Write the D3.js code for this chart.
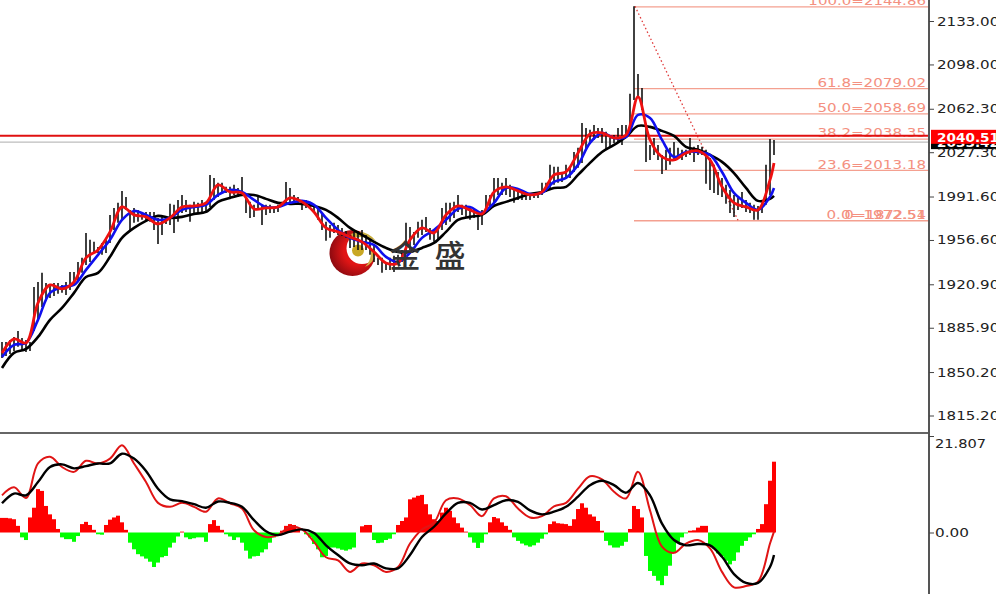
<!DOCTYPE html>
<html><head><meta charset="utf-8">
<style>html,body{margin:0;padding:0;background:#fff;overflow:hidden}svg{display:block}</style>
<script src="https://cdn.jsdelivr.net/npm/d3@7/dist/d3.min.js"></script>
</head><body><svg id="c" width="996" height="594"></svg>
<script>
const highs=[1874.5,1874.5,1876.1,1878.5,1883.3,1877.7,1876.1,1874.5,1918.8,1922.8,
1930.1,1922,1920.4,1922,1922,1920.4,1922.8,1930.9,1930.9,1938.9,
1942.2,1962.3,1956.7,1955.1,1951,1954.2,1956.7,1976.8,1982.4,1986.5,
1996.1,1991.3,1980.8,1982.4,1980.8,1979.2,1979.2,1979.2,1979.2,1974.4,
1976.8,1975.2,1985.7,1984.9,1988.9,1992.9,1988.9,1984.9,1987.3,1986.5,
1988.9,1984.9,2009,2006.6,2002.6,2002.6,1999.4,1999.4,2001,1998.5,
2007.4,1991.3,1987.3,1984.9,1991.3,1984.9,1984.9,1984.9,1983.2,1984.9,
1987.3,2003.4,1998.5,1992.9,1991.3,1988.9,1988.9,1987.3,1984.9,1983.2,
1978.4,1971.2,1968.7,1970.4,1968.7,1966.3,1963.9,1960.7,1963.1,1963.9,
1964.7,1960.7,1956.7,1952.6,1942.2,1942.2,1938.9,1942.2,1943.8,1944.6,
1948.6,1970.4,1967.1,1963.1,1971.2,1972.8,1975.2,1966.3,1964.7,1964.7,
1982.4,1986.5,1986.5,1987.3,1992.9,1984.9,1984.9,1982.4,1982.4,1976.8,
1980.8,1992.9,1992.9,2006.6,2006.6,2002.6,2006.6,2001,1996.9,1996.9,
1995.3,1994.5,1994.5,1994.5,1993.7,2002.6,2002.6,2017.1,2015.5,2015.5,
2011.4,2017.1,2014.7,2027.5,2030.8,2050.9,2046.9,2045.3,2049.3,2046.9,
2046.9,2043.7,2038.8,2041.2,2046.9,2049.3,2049.3,2074.3,2144.86,2090.4,
2079.1,2047.7,2033.2,2038.8,2033.2,2025.1,2029.2,2030.8,2035.6,2030.8,
2029.2,2029.2,2038.8,2031.6,2033.2,2031.6,2029.2,2022.7,2017.1,2011.4,
2006.6,2001,1996.9,1992.9,1990.5,1995.3,1988.9,1986.5,1984.9,1984,
1986.5,2017.1,2038,2037.2];
const lows=[1861.6,1863.2,1864.8,1867.2,1870.5,1868,1866.4,1867.2,1883.3,1892.2,
1902.7,1908.3,1909.9,1911.5,1913.2,1914,1912.3,1916.4,1920.4,1922.8,
1930.1,1936.5,1938.9,1946.2,1946.2,1944.6,1946.2,1954.2,1964.7,1970.4,
1972.8,1980.8,1963.1,1970.4,1971.2,1972.8,1971.2,1971.2,1964.7,1953.4,
1960.7,1969.5,1968.7,1962.3,1971.2,1978.4,1979.2,1971.2,1976.8,1978.4,
1978.4,1978.4,1983.2,1988.9,1991.3,1995.3,1994.5,1991.3,1992.9,1991.3,
1992.9,1978.4,1974.4,1975.2,1980.8,1968.7,1976.8,1978.4,1978.4,1979.2,
1983.2,1986.5,1986.5,1987.3,1984.9,1980.8,1982.4,1982.4,1978.4,1972.8,
1964.7,1955.9,1958.3,1962.3,1960.7,1959.9,1958.3,1950.2,1951,1948.6,
1948.6,1948.6,1944.6,1938.9,1936.5,1930.1,1932.5,1932.5,1930.9,1936.5,
1938.9,1946.2,1948.6,1952.6,1958.3,1960.7,1963.1,1956.7,1955.1,1956.7,
1964.7,1968.7,1971.2,1974.4,1979.2,1976.8,1974.4,1972.8,1974.4,1964.7,
1968.7,1979.2,1980.8,1984.9,1992.9,1992.9,1992.9,1991.3,1986.5,1988.9,
1988.9,1988.9,1988.9,1990.5,1990.5,1992.9,1995.3,1996.9,2001,2002.6,
2003.4,2006.6,2006.6,2011.4,2014.7,2018.7,2029.2,2035.6,2037.2,2038.8,
2034.8,2029.2,2030.8,2034.8,2034.8,2033.2,2038.8,2049.3,2069.4,2071.1,
2061.4,2019.5,2021.1,2025.1,2021.1,2009.8,2013,2017.1,2021.1,2022.7,
2021.1,2023.5,2025.1,2019.5,2025.1,2025.1,2001.8,1996.9,1994.5,1992.9,
1991.3,1985.7,1978.4,1975.2,1980.8,1982.4,1979.2,1978.4,1972.8,1972.8,
1978.4,1984.9,1992.9,2025.1];
const sampleBars=[0,3,6,9,12,15,18,21,24,27,30,33,36,39,42,45,48,51,54,57,60,63,66,69,72,75,78,81,
84,87,90,93,96,99,102,105,108,111,114,117,120,123,126,129,132,135,138,141,144,147,150,153,156,
159,162,165,168,171,174,177,180,183,186,189,192,193];
const maFast=[1865.6,1876.9,1873.7,1905.9,1920.4,1917.2,1922.8,1942.2,1948.6,1963.1,1983.2,1976.8,1975.2,1969.5,1974.4,1983.2,1984,1986.5,2001,1995.3,1994.5,1981.6,1982.4,1983.2,1990.5,1987.3,1979.2,1966.3,
1963.1,1959.1,1955.1,1947,1938.1,1938.1,1956.7,1966.3,1962.3,1976.8,1984,1980.8,1977.6,1995.3,1999.4,1996.1,1992.9,1995.3,2009,2011.4,2026.7,2042,2042.9,2038.8,2041.2,
2071.9,2037.2,2023.5,2021.1,2026.7,2028.4,2021.1,1999.4,1986.5,1983.2,1980.8,2005,2018.7];
const maMid=[1862.4,1872.1,1873.7,1892.2,1914,1918.8,1920.4,1932.5,1944.6,1956.7,1972.8,1980,1976.8,1972.8,1974.4,1980.8,1983.2,1984.9,1992.9,1996.9,1995.3,1988.9,1983.2,1983.2,1986.5,1988.1,1984.9,1974.4,
1964.7,1958.3,1955.1,1952.6,1943,1938.9,1946.2,1958.3,1964.7,1972.8,1981.6,1983.2,1978.4,1986.5,1998.5,1997.7,1993.7,1994.5,2003.4,2006.6,2017.1,2034.8,2042.9,2038.8,2039.6,
2057.4,2054.9,2037.2,2023.5,2027.5,2027.5,2025.1,2011.4,1994.5,1986.5,1980.8,1991.3,1998.5];
const maSlow=[1853.5,1865.6,1868.8,1878.5,1892.2,1901.9,1914,1926.8,1930.1,1943,1958.3,1966.3,1972,1976,1974.4,1975.2,1977.6,1979.2,1987.3,1990.5,1992.9,1992.9,1989.7,1986.5,1985.7,1985.7,1984,1980.8,
1974.4,1966.3,1960.7,1955.1,1950.2,1947,1947,1950.2,1954.2,1963.1,1972.8,1975.2,1976.8,1984,1987.3,1990.5,1993.7,1995.3,1998.5,1999.4,2009,2018.7,2027.5,2033.2,2039.6,
2048.5,2047.7,2044.5,2040.4,2031.6,2029.2,2025.1,2019.5,2010.5,1998.5,1988.1,1989.7,1992.1];
const macdHist=[3.3,3.3,3.2,3.0,1.5,-1.1,-1.7,3.4,5.6,9.8,
9.4,6.0,4.1,3.0,0.8,-1.1,-1.5,-1.5,-2.1,-0.8,
1.9,2.4,1.7,0.6,-0.4,-0.5,1.7,2.9,3.4,3.8,
2.3,0.6,-2.3,-3.8,-4.9,-5.4,-5.9,-6.6,-7.8,-6.8,
-5.6,-5.3,-3.4,-2.3,-0.9,0.2,-1.1,-1.5,-1.3,-1.1,
-1.1,-2.1,1.9,2.8,1.5,0.6,-0.4,-0.9,-1.7,-1.1,
-2.3,-4.1,-5.9,-5.4,-5.3,-4.5,-3.8,-2.3,-1.1,-0.4,
0.4,1.5,1.9,1.7,0.9,0,-0.4,-1.1,-2.6,-3.8,
-5.6,-5.3,-3.4,-3.4,-3.6,-3.9,-4.1,-3.8,-3.4,0,
1.4,1.7,1.7,-1.7,-2.4,-2.3,-1.7,-1.4,-0.4,1.7,
2.6,3.4,7.5,7.9,8.3,8.5,6.4,4.1,3.0,2.6,
4.5,5.6,4.9,3.4,2.1,1.1,0.2,-1.1,-2.3,-3.5,
-2.3,-0.4,2.3,3.5,3.2,2.3,1.5,0.6,-1.1,-1.9,
-2.5,-2.9,-3.2,-2.9,-2.3,-1.4,-0.4,1.9,2.5,2.1,
2.0,1.9,1.5,3.0,5.3,6.6,5.6,4.1,3.6,2.6,
0.4,-1.9,-2.9,-3.4,-3.4,-3.0,-2.1,0.8,6.0,5.3,
3.4,-5.3,-8.7,-9.8,-10.9,-11.9,-9.8,-7.5,-4.5,-2.3,
-1.1,-0.2,0.4,0.5,1.1,1.5,1.5,-3.0,-3.6,-4.7,
-5.4,-6.4,-7.2,-6.4,-4.5,-3.0,-1.9,-1.1,-0.4,0.8,
1.9,6.4,11.7,16.0];
const macdFast=[8.4,10.2,7.8,15.6,17.1,14.8,13.7,16.2,15.6,16.7,19.7,15.6,11.4,6.7,5.8,6.7,5.8,4.7,7.7,6.6,5.4,0.5,-1.0,-0.6,1.3,0.7,-2.1,-5.6,
-6.3,-8.9,-7.0,-7.4,-8.9,-7.8,-2.5,0.7,2.2,7.3,7.7,6.2,3.7,7.7,8.2,5.4,3.4,3.7,5.9,6.7,9.9,12.7,12.0,9.2,7.7,
13.7,5.0,-3.2,-4.6,-2.5,-1.7,-3.6,-8.9,-12.4,-12.1,-11.1,-2.5,0.2];
const macdSlow=[6.6,8.8,8.4,11.4,14.8,15.4,14.5,15.0,15.6,15.6,17.8,16.7,13.9,9.9,7.5,7.1,6.4,5.6,7.0,6.7,5.8,2.8,0.3,-0.6,0.2,0.7,-0.1,-2.9,
-5.1,-7.0,-7.4,-7.0,-8.1,-8.1,-5.1,-1.0,1.3,4.3,6.7,6.7,5.2,6.2,7.3,6.9,5.0,4.1,4.7,5.8,8.1,10.7,11.7,10.7,9.0,
11.2,8.4,2.0,-1.7,-2.9,-2.6,-2.9,-5.5,-9.4,-11.4,-11.4,-7.8,-5.1];
const priceTicks=[2133,2098,2062.3,2027.3,1991.6,1956.6,1920.9,1885.9,1850.2,1815.2];
const macdTicks=[21.807,0];
const fibLevels=[100,61.8,50,38.2,23.6,0];
const fibPrices=[2144.86,2079.02,2058.69,2038.35,2013.18,1972.51];
const fibOverlayLabel="0=1872.54";
const fibBars=[158,184];
const bidPrice=2040.51, askPrice=2035.42;
const brand=["金","盛"];

const svg=d3.select("#c");
const xs=d3.scaleLinear().domain([0,193]).range([2,774]);
const yP=d3.scaleLinear().domain([1815.2,2133]).range([415.5,21]);
const yM=d3.scaleLinear().domain([0,21.807]).range([532.5,436]);
const AX=929, TXT="DejaVu Sans";

// logo watermark
const defs=svg.append("defs");
const g=defs.append("radialGradient").attr("id","lg").attr("cx","0.62").attr("cy","0.45").attr("r","0.62");
g.append("stop").attr("offset","0.5").attr("stop-color","#e01515");
g.append("stop").attr("offset","1").attr("stop-color","#8e0a10");
const logo=svg.append("g");
logo.append("circle").attr("cx",352.5).attr("cy",253).attr("r",23).attr("fill","url(#lg)");
logo.append("circle").attr("cx",362).attr("cy",248.5).attr("r",15.5).attr("fill","#fff");
logo.append("circle").attr("cx",358).attr("cy",250.5).attr("r",6).attr("fill","#c9a825");
logo.append("path").attr("d","M351 234 Q365 228 376 241 Q365 235 353 238Z").attr("fill","#c9ae3c");
logo.append("path").attr("d","M375 250 Q376 262 365 267 Q372 260 371 248Z").attr("fill","#d2b44a");

// histogram
const hw=xs(1)-xs(0);
svg.append("g").selectAll("rect").data(macdHist).join("rect")
  .attr("x",(d,i)=>xs(i)-hw/2).attr("width",hw)
  .attr("y",d=>d>0?yM(d):yM(0)).attr("height",d=>Math.abs(yM(d)-yM(0)))
  .attr("fill",d=>d>0?"#ff0000":"#00ff00");

// fib
const fib=svg.append("g");
fib.selectAll("line").data(fibPrices).join("line")
  .attr("x1",xs(fibBars[0])).attr("x2",AX).attr("y1",d=>yP(d)+0.6).attr("y2",d=>yP(d)+0.6)
  .attr("stroke","#f4a090").attr("stroke-width",1.4);
fib.append("line").attr("x1",xs(fibBars[0])+1).attr("y1",yP(fibPrices[0])).attr("x2",xs(fibBars[1])).attr("y2",yP(fibPrices[5]))
  .attr("stroke","#e03a3a").attr("stroke-width",1.3).attr("stroke-dasharray","1.5 2.5");
const fibLabels=fibPrices.map((p,i)=>`${fibLevels[i].toFixed(1)}=${p.toFixed(2)}`);
const fibPos=fibPrices.map(p=>yP(p)-1);
fib.selectAll("text.f").data(fibLabels).join("text").attr("class","f")
  .attr("x",926).attr("y",(d,i)=>fibPos[i]).attr("text-anchor","end")
  .attr("font-family",TXT).attr("font-size",12.5).attr("fill","#f49080")
  .attr("textLength",d=>d.length*9.05).attr("lengthAdjust","spacingAndGlyphs").text(d=>d);
fib.append("text").attr("x",926).attr("y",fibPos[5]).attr("text-anchor","end")
  .attr("font-family",TXT).attr("font-size",12.5).attr("fill","#f49080")
  .attr("textLength",fibOverlayLabel.length*9.05).attr("lengthAdjust","spacingAndGlyphs").text(fibOverlayLabel);

// level lines
svg.append("line").attr("x1",0).attr("x2",AX).attr("y1",yP(askPrice)).attr("y2",yP(askPrice)).attr("stroke","#bdbdbd").attr("stroke-width",1.2);
svg.append("line").attr("x1",0).attr("x2",AX).attr("y1",yP(bidPrice)).attr("y2",yP(bidPrice)).attr("stroke","#e01010").attr("stroke-width",2);

// bars
svg.append("g").selectAll("line").data(highs).join("line")
  .attr("x1",(d,i)=>xs(i)).attr("x2",(d,i)=>xs(i))
  .attr("y1",d=>yP(d)).attr("y2",(d,i)=>yP(lows[i]))
  .attr("stroke","#111").attr("stroke-width",1.6);

// lines
function series(vals,y,col,w){
  const l=d3.line().x((d,i)=>xs(sampleBars[i])).y(d=>y(d)).curve(d3.curveCatmullRom.alpha(0.5));
  svg.append("path").attr("d",l(vals)).attr("fill","none").attr("stroke",col).attr("stroke-width",w).attr("stroke-linejoin","round");
}
series(maSlow,yP,"#000",2.6);
series(maMid,yP,"#1010ee",2.6);
series(maFast,yP,"#ee1010",2.8);
series(macdFast,yM,"#e01515",2);
series(macdSlow,yM,"#000",2.4);

// brand on top of the lines, as in the reference watermark text
svg.append("g").selectAll("text").data(brand).join("text")
  .attr("x",(d,i)=>i?450:405).attr("y",267).attr("text-anchor","middle")
  .attr("font-family","Noto Sans CJK SC").attr("font-weight",500).attr("font-size",31).attr("fill","#333").text(d=>d);

// pane frame
svg.append("line").attr("x1",0).attr("x2",AX+1).attr("y1",433).attr("y2",433).attr("stroke","#666").attr("stroke-width",2);

// axes
function styleAxis(a,w){
  a.select(".domain").attr("stroke","#555").attr("stroke-width",2);
  a.selectAll(".tick line").attr("stroke","#444");
  a.selectAll(".tick text").attr("font-family",TXT).attr("font-size",12.5).attr("fill","#222")
   .attr("lengthAdjust","spacingAndGlyphs").attr("textLength",function(){return this.textContent.length*w;});
}
const a1=svg.append("g").attr("transform",`translate(${AX},0)`)
  .call(d3.axisRight(yP).tickValues(priceTicks).tickSize(5).tickSizeOuter(0).tickPadding(3).tickFormat(d3.format(".2f")));
a1.select(".domain").attr("d","M0,0V433");
styleAxis(a1,8.9);
const a2=svg.append("g").attr("transform",`translate(${AX},0)`)
  .call(d3.axisRight(yM).tickValues(macdTicks).tickSize(5).tickSizeOuter(0).tickPadding(1).tickFormat(d=>d===0?"0.00":d3.format(".3f")(d)));
a2.select(".domain").attr("d","M0,433V594");
styleAxis(a2,8.5);
a2.selectAll(".tick text").attr("dy",(d)=>d?"0.9em":"0.32em");

// price tags
function tag(p,fill,dy){
  const t=svg.append("g").attr("transform",`translate(931,${yP(p)+dy})`);
  t.append("rect").attr("x",0).attr("y",-7).attr("width",65).attr("height",14).attr("fill",fill);
  t.append("text").attr("x",6).attr("y",5).attr("fill","#fff").attr("font-family",TXT).attr("font-size",12.5).attr("font-weight","bold")
   .attr("textLength",62).attr("lengthAdjust","spacingAndGlyphs").text(p.toFixed(2));
  return t;
}
tag(askPrice,"#000",0);
a1.raise();
tag(bidPrice,"#ff0000",1);
</script></body></html>
